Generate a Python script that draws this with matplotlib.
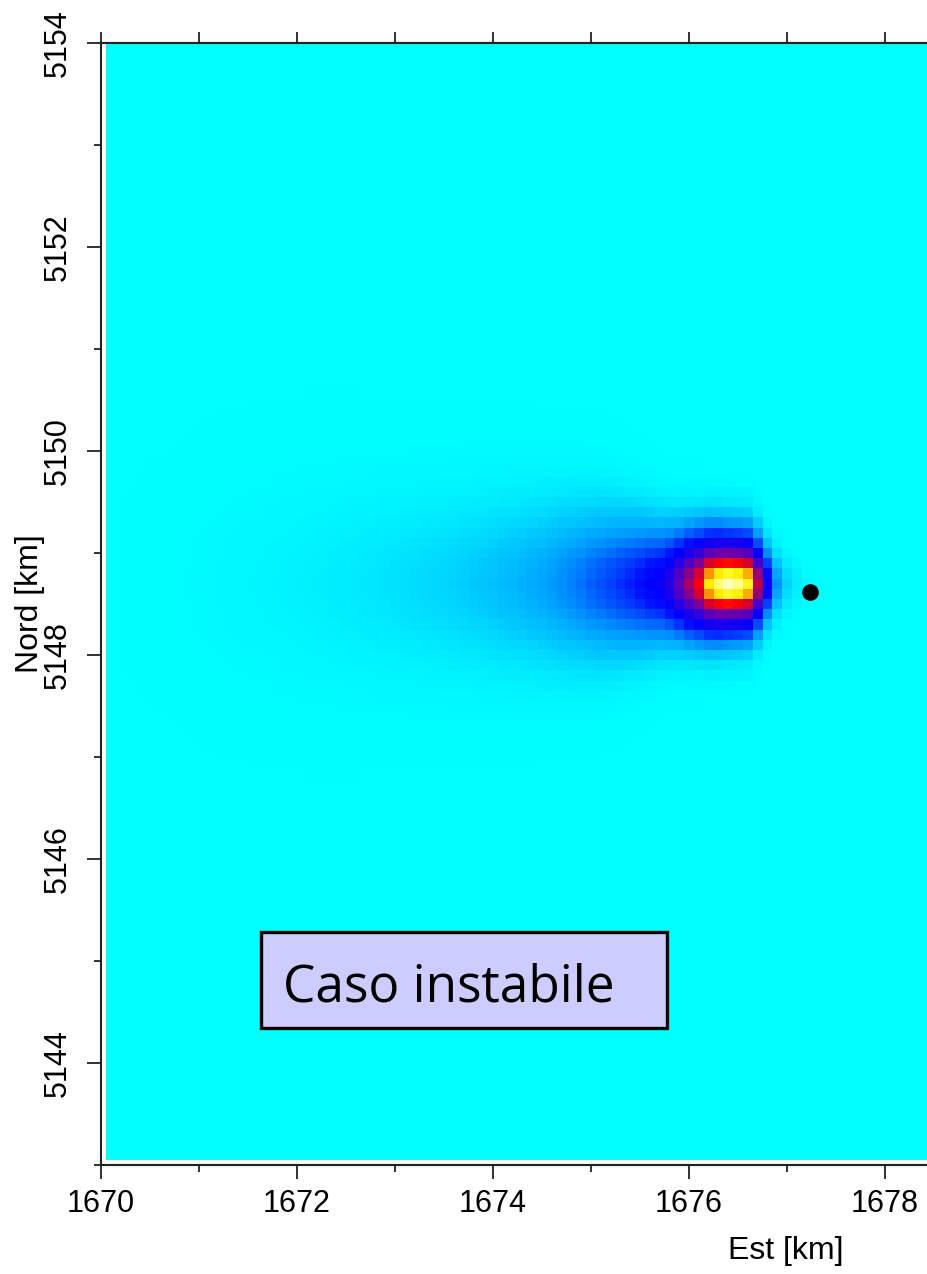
import numpy as np
import matplotlib
matplotlib.use("Agg")
import matplotlib.pyplot as plt
from matplotlib.colors import LinearSegmentedColormap
from matplotlib.patches import Rectangle
from matplotlib.ticker import MultipleLocator

# grid of the concentration map (cell centres, km)
cell = 0.1
x_first, x_last = 1670.1, 1678.5
y_first, y_last = 5143.1, 5154.0

# plume axis (row of the maximum) and source position
plume_y = 5148.7
source_x = 1677.23
source_y = 5148.62

# per column along the plume: centre x, centreline value, crosswind half-width (km)
plume_x = [1670.2, 1670.3, 1670.4, 1670.5, 1670.6, 1670.7, 1670.8, 1670.9,
           1671.0, 1671.1, 1671.2, 1671.3, 1671.4, 1671.5, 1671.6, 1671.7,
           1671.8, 1671.9, 1672.0, 1672.1, 1672.2, 1672.3, 1672.4, 1672.5,
           1672.6, 1672.7, 1672.8, 1672.9, 1673.0, 1673.1, 1673.2, 1673.3,
           1673.4, 1673.5, 1673.6, 1673.7, 1673.8, 1673.9, 1674.0, 1674.1,
           1674.2, 1674.3, 1674.4, 1674.5, 1674.6, 1674.7, 1674.8, 1674.9,
           1675.0, 1675.1, 1675.2, 1675.3, 1675.4, 1675.5, 1675.6, 1675.7,
           1675.8, 1675.9, 1676.0, 1676.1, 1676.2, 1676.3, 1676.4, 1676.5,
           1676.6, 1676.7, 1676.8, 1676.9, 1677.0, 1677.1, 1677.2, 1677.3]
plume_peak = [0.0004, 0.0005, 0.0006, 0.0007, 0.0008, 0.0009, 0.0011, 0.0013,
              0.0015, 0.0017, 0.0019, 0.0021, 0.0023, 0.0025, 0.0027, 0.0029,
              0.0032, 0.0035, 0.0038, 0.0041, 0.0044, 0.0047, 0.0051, 0.0055,
              0.0059, 0.0064, 0.0069, 0.0074, 0.0080, 0.0086, 0.0093, 0.0100,
              0.0108, 0.0117, 0.0127, 0.0138, 0.0150, 0.0165, 0.018, 0.020,
              0.022, 0.024, 0.027, 0.030, 0.034, 0.039, 0.044, 0.050,
              0.058, 0.066, 0.075, 0.085, 0.095, 0.11, 0.13, 0.15,
              0.20, 0.30, 0.42, 0.56, 0.82, 0.94, 1.00, 0.96,
              0.86, 0.46, 0.14, 0.035, 0.012, 0.005, 0.0015, 0.0005]
plume_width = [0.85, 0.84, 0.83, 0.83, 0.82, 0.81, 0.80, 0.80,
               0.79, 0.78, 0.77, 0.76, 0.76, 0.75, 0.74, 0.73,
               0.73, 0.72, 0.71, 0.70, 0.69, 0.68, 0.67, 0.66,
               0.65, 0.64, 0.63, 0.62, 0.61, 0.60, 0.59, 0.58,
               0.57, 0.56, 0.55, 0.54, 0.53, 0.52, 0.51, 0.50,
               0.49, 0.48, 0.47, 0.46, 0.45, 0.44, 0.43, 0.415,
               0.40, 0.385, 0.37, 0.355, 0.34, 0.32, 0.30, 0.28,
               0.26, 0.24, 0.23, 0.22, 0.21, 0.205, 0.20, 0.20,
               0.20, 0.19, 0.18, 0.17, 0.16, 0.15, 0.14, 0.13]

# crosswind fall-off: offset in half-widths -> fraction of the centreline value
cross_offset = [0.0, 0.5, 1.0, 1.5, 2.0, 2.5, 3.0, 3.5, 4.0, 5.0, 6.0]
cross_level = [1.0, 0.87, 0.58, 0.33, 0.17, 0.08, 0.035, 0.015, 0.006, 0.001, 0.0]

x_ticks = [1670, 1672, 1674, 1676, 1678]
y_ticks = [5144, 5146, 5148, 5150, 5152, 5154]
box_text = "Caso instabile"

# colour scale: cyan (zero) -> blue -> purple -> red -> yellow -> pale yellow
cmap_nodes = [(0.0, "#00ffff"), (0.003, "#00f5ff"), (0.008, "#00e1ff"),
              (0.015, "#00c8ff"), (0.035, "#0096ff"), (0.06, "#005aff"),
              (0.10, "#0014ff"), (0.13, "#0000ff"), (0.22, "#3200dc"),
              (0.33, "#6e00aa"), (0.45, "#b90050"), (0.57, "#ff0000"),
              (0.70, "#ff8200"), (0.82, "#ffeb00"), (0.90, "#ffff3c"),
              (1.0, "#ffffbe")]
cmap = LinearSegmentedColormap.from_list("plume", cmap_nodes, N=4096)

nx = int(round((x_last - x_first) / cell)) + 1
ny = int(round((y_last - y_first) / cell)) + 1
xc = x_first + cell * np.arange(nx)
yc = y_first + cell * np.arange(ny)
xe = np.append(xc - cell / 2, xc[-1] + cell / 2)
ye = np.append(yc - cell / 2, yc[-1] + cell / 2)

Z = np.zeros((ny, nx))
for x, c, w in zip(plume_x, plume_peak, plume_width):
    i = int(round((x - x_first) / cell))
    Z[:, i] = c * np.interp(np.abs(yc - plume_y) / w, cross_offset, cross_level)

tick_font = ["Liberation Sans", "DejaVu Sans"]
plt.rcParams["font.family"] = tick_font

W, H = 928, 1274
fig = plt.figure(figsize=(W / 100, H / 100), dpi=100)
ax_l, ax_t, ax_b = 101, 43, 1165
px_km_x = 98.0
xmin, xmax = 1670, 1679
ymin, ymax = 5143, 5154
ax = fig.add_axes([ax_l / W, (H - ax_b) / H, (xmax - xmin) * px_km_x / W, (ax_b - ax_t) / H])

ax.pcolormesh(xe, ye, Z, cmap=cmap, vmin=0, vmax=1, shading="flat")
ax.plot(source_x, source_y, "o", color="black", markersize=11)

ax.add_patch(Rectangle((1671.63, 5144.34), 4.15, 0.94, facecolor="#ccccff",
                       edgecolor="black", linewidth=2.4, zorder=5))
ax.text(1671.86, 5144.6, box_text, fontsize=37, family=["Open Sans", "DejaVu Sans"],
        va="baseline", ha="left", zorder=6)

ax.set_xlim(xmin, xmax)
ax.set_ylim(ymin, ymax)

ax.set_xticks(x_ticks)
ax.xaxis.set_minor_locator(MultipleLocator(1))
ax.set_yticks(y_ticks)
ax.yaxis.set_minor_locator(MultipleLocator(1))
ax.tick_params(axis="both", which="major", direction="out", length=10, width=1.3,
               labelsize=22, color="#222222")
ax.tick_params(axis="both", which="minor", direction="out", length=5, width=1.3,
               color="#222222")
ax.tick_params(axis="x", pad=7)
ax.tick_params(axis="y", pad=10)
for lab in ax.get_yticklabels():
    lab.set_rotation(90)
    lab.set_va("center")

top = ax.secondary_xaxis("top")
top.set_xticks(np.arange(1670, 1680, 1))
top.tick_params(direction="out", length=8, width=1.3, labeltop=False, color="#222222")
top.spines["top"].set_linewidth(1.5)
top.spines["top"].set_color("#222222")

for side in ["left", "bottom", "top"]:
    ax.spines[side].set_linewidth(1.5)
    ax.spines[side].set_color("#222222")
ax.spines["right"].set_visible(False)

ax.set_xlabel("Est [km]", fontsize=23)
ax.xaxis.set_label_coords((786 - ax_l) / ((xmax - xmin) * px_km_x), -(1236 - ax_b) / (ax_b - ax_t))
ax.set_ylabel("Nord [km]", fontsize=23)
ax.yaxis.set_label_coords(-(ax_l - 45) / ((xmax - xmin) * px_km_x), 0.5)

fig.savefig("out.png", dpi=100)
